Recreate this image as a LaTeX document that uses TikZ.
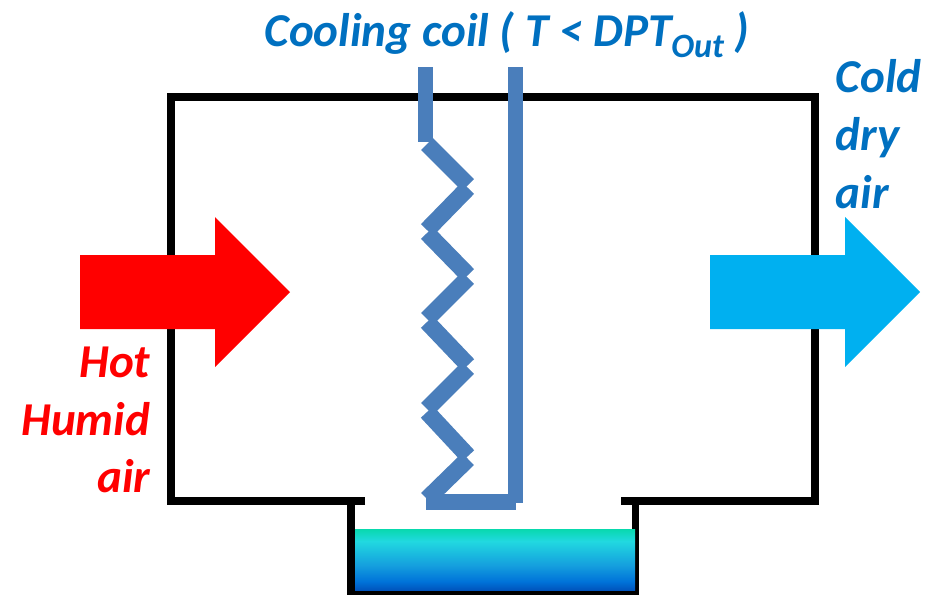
\documentclass[tikz,border=0pt]{standalone}
\usepackage{fontspec}
\setmainfont{Carlito}
\definecolor{coilblue}{HTML}{4A7EBB}
\definecolor{textblue}{HTML}{0070C0}
\definecolor{coldblue}{HTML}{00B0F0}
\pgfdeclareverticalshading{watershade}{100bp}{
	rgb(0bp)=(0,0.33,0.74);
	rgb(25bp)=(0,0.33,0.74);
	rgb(32bp)=(0,0.45,0.85);
	rgb(45bp)=(0.08,0.62,0.87);
	rgb(65bp)=(0.13,0.85,0.88);
	rgb(75bp)=(0.03,0.85,0.68);
	rgb(100bp)=(0.03,0.85,0.68)}
\tikzset{
	wall/.style={line width=2.1pt,line cap=butt,line join=miter},
	coilpipe/.style={coilblue,line width=4.3pt},
	coilzig/.style={coilblue,line width=4.8pt},
	label/.style={font=\fontsize{13.4}{16.4}\selectfont\bfseries\itshape,inner sep=0pt}
}
\begin{document}
\begin{tikzpicture}[x=0.01cm,y=-0.01cm]
	\useasboundingbox (0,0) rectangle (937,594);
	% chamber and drain tray
	\draw[wall] (365,501) -- (171,501) -- (171,97) -- (815,97) -- (815,501) -- (621,501);
	\draw[wall] (351,501) -- (351,591) -- (635.5,591) -- (635.5,501);
	\shade[shading=watershade] (355,529) rectangle (635,590);
	% coil
	\draw[coilpipe] (425.5,67) -- (425.5,142);
	\draw[coilpipe] (515.5,67) -- (515.5,503);
	\foreach \ya/\yb/\yc in {144/185/230,233/275/319,322/365/409,412/456/499}{
		\draw[coilzig] (427,\ya) -- (468,\yb);
		\draw[coilzig] (468,\yb+3) -- (427,\yc);
	}
	\draw[coilpipe] (426,502) -- (516,502);
	% air arrows
	\fill[red] (80,255) -- (215,255) -- (215,217) -- (290,292) -- (215,367) -- (215,329) -- (80,329) -- cycle;
	\fill[coldblue] (710,255) -- (845,255) -- (845,217) -- (920,292) -- (845,367) -- (845,329) -- (710,329) -- cycle;
	% labels
	\node[label,textblue] (coil) at (507,35) {Cooling coil ( T < DPT\raisebox{-3.2pt}{\fontsize{9.7}{9.7}\selectfont Out} )};
	\node[label,textblue,align=left,anchor=west] (cold) at (835,134) {Cold\\dry\\air};
	\node[label,red,align=right,anchor=east] (hot) at (151,420) {Hot\\Humid\\air};
\end{tikzpicture}
\end{document}
